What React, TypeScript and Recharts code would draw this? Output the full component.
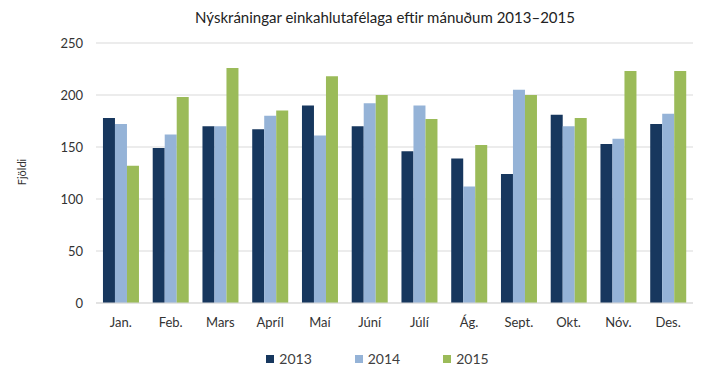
import { Bar, BarChart, CartesianGrid, Legend, XAxis, YAxis } from 'recharts'

const months = ['Jan.', 'Feb.', 'Mars', 'Apríl', 'Maí', 'Júní', 'Júlí', 'Ág.', 'Sept.', 'Okt.', 'Nóv.', 'Des.']
const y2013 = [178, 149, 170, 167, 190, 170, 146, 139, 124, 181, 153, 172]
const y2014 = [172, 162, 170, 180, 161, 192, 190, 112, 205, 170, 158, 182]
const y2015 = [132, 198, 226, 185, 218, 200, 177, 152, 200, 178, 223, 223]
const yTicks = [0, 50, 100, 150, 200, 250]

const data = months.map((name, i) => ({
  name,
  y2013: y2013[i],
  y2014: y2014[i],
  y2015: y2015[i],
}))

const FONT = 'Lato, "Open Sans", sans-serif'

const series = [
  { key: 'y2013', label: '2013', color: '#17375e' },
  { key: 'y2014', label: '2014', color: '#95b3d7' },
  { key: 'y2015', label: '2015', color: '#9bbb59' },
]

function LegendContent() {
  return (
    <div style={{ display: 'flex', justifyContent: 'center', gap: 43, paddingLeft: 26, fontFamily: FONT, fontSize: 14, color: '#404040' }}>
      {series.map((s) => (
        <div key={s.key} style={{ display: 'flex', alignItems: 'center' }}>
          <span style={{ width: 8, height: 8, background: s.color, display: 'inline-block', marginRight: 5 }} />
          {s.label}
        </div>
      ))}
    </div>
  )
}

export default function App() {
  return (
    <div style={{ position: 'absolute', left: 0, top: 0, width: 713, height: 375, background: '#fff', fontFamily: FONT }}>
      <div style={{ position: 'absolute', left: 0, width: 770, top: 8, textAlign: 'center', fontSize: 15, color: '#222' }}>
        Nýskráningar einkahlutafélaga eftir mánuðum 2013–2015
      </div>
      <div
        style={{
          position: 'absolute',
          left: 21,
          top: 172,
          transform: 'translate(-50%, -50%) rotate(-90deg)',
          fontSize: 11,
          color: '#333',
        }}
      >
        Fjöldi
      </div>
      <BarChart
        width={713}
        height={375}
        data={data}
        margin={{ top: 43, right: 20, bottom: 19, left: 36 }}
        barCategoryGap="14%"
        barGap={0}
      >
        <CartesianGrid vertical={false} stroke="#d9d9d9" />
        <XAxis
          dataKey="name"
          tickLine={false}
          axisLine={{ stroke: '#d9d9d9' }}
          tick={{ fill: '#333', fontSize: 13, fontFamily: FONT }}
          tickMargin={9}
          height={36}
        />
        <YAxis
          domain={[0, 250]}
          ticks={yTicks}
          axisLine={false}
          tickLine={false}
          width={60}
          tickMargin={7}
          tick={{ fill: '#333', fontSize: 13, fontFamily: FONT }}
        />
        <Legend verticalAlign="bottom" content={<LegendContent />} wrapperStyle={{ bottom: 8 }} />
        {series.map((s) => (
          <Bar key={s.key} dataKey={s.key} name={s.label} fill={s.color} isAnimationActive={false} />
        ))}
      </BarChart>
    </div>
  )
}
